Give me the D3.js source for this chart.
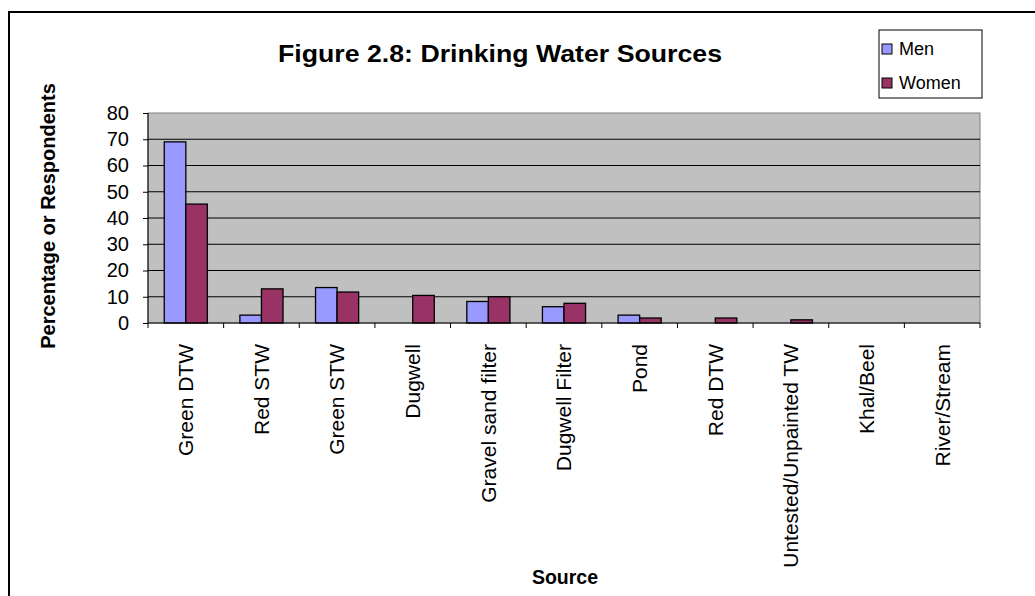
<!DOCTYPE html>
<meta charset="utf-8">
<style>
body { margin: 0; background: #fff; }
svg text { font-family: Arial, "Liberation Sans", sans-serif; fill: #000; }
.axis path, .axis line { stroke: #000; }
</style>
<body>
<svg width="1035" height="596"></svg>
<script src="https://cdn.jsdelivr.net/npm/d3@7"></script>
<script>
// data
var sources = ["Green DTW", "Red STW", "Green STW", "Dugwell", "Gravel sand filter",
  "Dugwell Filter", "Pond", "Red DTW", "Untested/Unpainted TW", "Khal/Beel", "River/Stream"];
var men   = [69, 3, 13.5, 0, 8.2, 6.2, 3, 0, 0, 0, 0];
var women = [45.3, 13, 11.8, 10.5, 10, 7.5, 1.9, 1.9, 1.2, 0, 0];
var seriesNames = ["Men", "Women"];
var yTicks = [0, 10, 20, 30, 40, 50, 60, 70, 80];

var colors = { Men: "#9999ff", Women: "#993366" };

var svg = d3.select("svg"),
    margin = {top: 113, right: 55, bottom: 273, left: 148},
    width = 1035 - margin.left - margin.right,
    height = 596 - margin.top - margin.bottom;

// outer chart border
svg.append("rect")
    .attr("x", 9).attr("y", 12)
    .attr("width", 1040).attr("height", 600)
    .attr("fill", "none").attr("stroke", "#000").attr("stroke-width", 2);

var rows = sources.map(function(s, i) { return {source: s, Men: men[i], Women: women[i]}; });

var x = d3.scaleBand().domain(sources).range([0, width]).paddingInner(0.43).paddingOuter(0.215);
var x1 = d3.scaleBand().domain(seriesNames).range([0, x.bandwidth()]);
var y = d3.scaleLinear().domain([0, 80]).range([height, 0]);

var g = svg.append("g").attr("transform", "translate(" + margin.left + "," + margin.top + ")");

// plot background
g.append("rect")
    .attr("width", width).attr("height", height)
    .attr("fill", "#c0c0c0").attr("stroke", "#808080").attr("stroke-width", 1);

// grid lines
g.selectAll(".grid")
  .data(yTicks.filter(function(d) { return d > 0 && d < 80; }))
  .enter().append("line")
    .attr("x1", 0).attr("x2", width)
    .attr("y1", function(d) { return y(d); })
    .attr("y2", function(d) { return y(d); })
    .attr("stroke", "#000").attr("stroke-width", 1);

// bars
var grp = g.selectAll(".grp")
  .data(rows)
  .enter().append("g")
    .attr("transform", function(d) { return "translate(" + x(d.source) + ",0)"; });

grp.selectAll("rect")
  .data(function(d) { return seriesNames.map(function(k) { return {key: k, value: d[k]}; }); })
  .enter().filter(function(d) { return d.value > 0; }).append("rect")
    .attr("x", function(d) { return x1(d.key); })
    .attr("y", function(d) { return y(d.value); })
    .attr("width", x1.bandwidth())
    .attr("height", function(d) { return height - y(d.value); })
    .attr("fill", function(d) { return colors[d.key]; })
    .attr("stroke", "#000").attr("stroke-width", 1.3);

// y axis
var yAxis = g.append("g").attr("class", "axis")
    .call(d3.axisLeft(y).tickValues(yTicks).tickSize(5).tickPadding(14));
yAxis.select(".domain").attr("d", "M0,0V" + height);
yAxis.selectAll("text").style("font-size", "20px");

// x axis: ticks at category boundaries
var xa = g.append("g").attr("class", "axis")
    .attr("transform", "translate(0," + height + ")");
xa.append("line").attr("x1", 0).attr("x2", width).attr("stroke", "#000");
var step = x.step();
xa.selectAll(".tk")
  .data(d3.range(sources.length + 1))
  .enter().append("line")
    .attr("x1", function(i) { return i * step; })
    .attr("x2", function(i) { return i * step; })
    .attr("y1", 0).attr("y2", 5)
    .attr("stroke", "#000");
xa.selectAll(".lbl")
  .data(sources)
  .enter().append("text")
    .attr("transform", function(d) {
      return "translate(" + (x(d) + x.bandwidth() / 2) + ",21) rotate(-90)";
    })
    .attr("text-anchor", "end")
    .attr("dy", "0.35em")
    .style("font-size", "21px")
    .text(function(d) { return d; });

// title
svg.append("text")
    .attr("x", 500).attr("y", 62)
    .attr("text-anchor", "middle")
    .attr("textLength", 444).attr("lengthAdjust", "spacingAndGlyphs")
    .style("font-size", "23px").style("font-weight", "bold")
    .text("Figure 2.8: Drinking Water Sources");

// axis titles
svg.append("text")
    .attr("transform", "translate(48," + (margin.top + height / 2 - 2) + ") rotate(-90)")
    .attr("text-anchor", "middle")
    .attr("dy", "0.35em")
    .style("font-size", "20px").style("font-weight", "bold")
    .text("Percentage or Respondents");

svg.append("text")
    .attr("x", 565).attr("y", 584)
    .attr("text-anchor", "middle")
    .style("font-size", "19.5px").style("font-weight", "bold")
    .text("Source");

// legend
var lg = svg.append("g").attr("transform", "translate(879,30)");
lg.append("rect").attr("width", 103).attr("height", 68)
    .attr("fill", "#fff").attr("stroke", "#000").attr("stroke-width", 1);
var li = lg.selectAll(".li").data(seriesNames).enter().append("g")
    .attr("transform", function(d, i) { return "translate(3," + (19 + i * 34) + ")"; });
li.append("rect").attr("x", 0).attr("y", -5).attr("width", 10).attr("height", 10)
    .attr("fill", function(d) { return colors[d]; }).attr("stroke", "#000");
li.append("text").attr("x", 17).attr("y", 0).attr("dy", "0.35em")
    .style("font-size", "18px").text(function(d) { return d; });
</script>
</body>
